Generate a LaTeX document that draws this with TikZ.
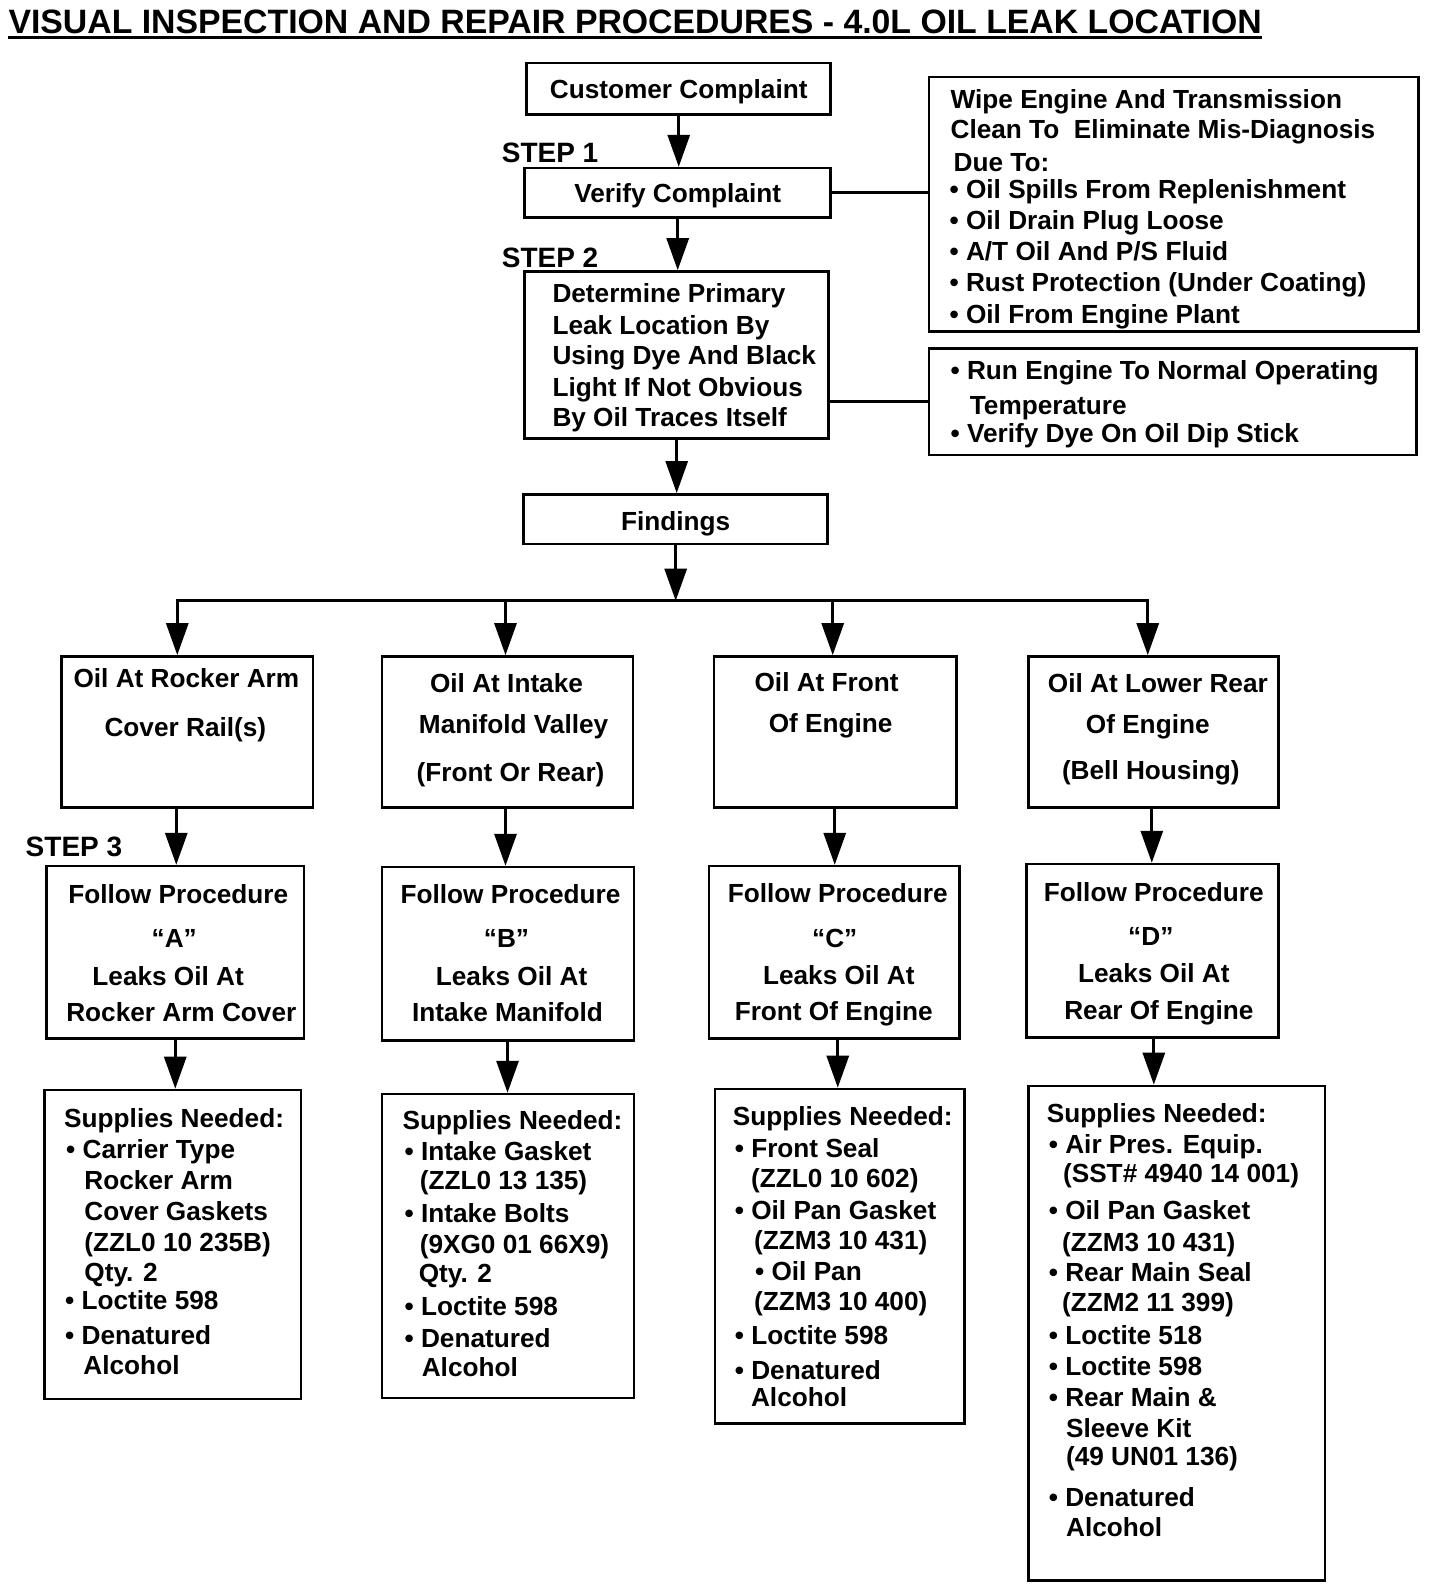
\documentclass[tikz,border=0pt]{standalone}
\usepackage{fontspec}
\setmainfont{Liberation Sans}
\usetikzlibrary{arrows.meta}
\newcommand\bx[5]{\node[box, minimum width={(#4-#2)*0.5065pt}, minimum height={(#5-#3)*0.5065pt}] (#1) at ({(#2+#4)/2},{(#3+#5)/2}) {};}
\begin{document}
\begin{tikzpicture}[x=0.5065pt,y=-0.5065pt,
 box/.style={draw, line width=1.3pt, inner sep=0pt},
 arr/.style={line width=1.5pt, -{Triangle[length=16pt,width=11pt]}},
 ln/.style={line width=1.5pt},
 tl/.style={inner sep=0pt, anchor=base west, font=\bfseries\fontsize{13.1}{15}\selectfont},
 tc/.style={tl, anchor=base},
 stp/.style={inner sep=0pt, anchor=base west, font=\bfseries\fontsize{14}{16}\selectfont}]
\path[fill=white, use as bounding box] (0,0) rectangle (1421.5,1567.6);

% title
\node[inner sep=0pt, anchor=base west, font=\bfseries\fontsize{16.9}{19}\selectfont] (title) at (8,33) {VISUAL INSPECTION AND REPAIR PROCEDURES - 4.0L OIL LEAK LOCATION};
\draw[line width=1.6pt] ([yshift=-2.2pt]title.base west) -- ([yshift=-2.2pt]title.base east);

% boxes
\bx{cc}{520}{62}{820}{113}
\bx{vc}{518}{166}{820}{215}
\bx{dp}{518}{268}{818}{433}
\bx{fd}{517}{488}{817}{537}
\bx{rb1}{917}{76}{1400}{327}
\bx{rb2}{917}{344}{1398}{449}
\bx{a1}{61}{648}{309}{797}
\bx{b1}{377}{648}{625}{797}
\bx{c1}{705}{648}{944}{797}
\bx{d1}{1015}{648}{1262}{797}
\bx{a2}{46}{855}{300}{1025}
\bx{b2}{377}{856}{626}{1027}
\bx{c2}{700}{855}{947}{1025}
\bx{d2}{1013}{853}{1262}{1024}
\bx{a3}{44}{1076}{297}{1381}
\bx{b3}{377}{1080}{626}{1380}
\bx{c3}{706}{1075}{952}{1405}
\bx{d3}{1015}{1072}{1308}{1560}

% step labels
\node[stp] (s1) at (495,160) {STEP 1};
\node[stp] (s2) at (495,264) {STEP 2};
\node[stp] (s3) at (25,845) {STEP 3};

% texts of top boxes
\node[tc] (tcc) at (670,97) {Customer Complaint};
\node[tc] (tvc) at (669,200) {Verify Complaint};
\node[tc] (tfd) at (667,524) {Findings};
\foreach[count=\i] \x/\y/\s in {938/107/{Wipe Engine And Transmission},938/137/{Clean To\ \ Eliminate Mis-Diagnosis},941/169/{Due To:},937/196/{• Oil Spills From Replenishment},937/227/{• Oil Drain Plug Loose},937/257/{• A/T Oil And P/S Fluid},937/288/{• Rust Protection (Under Coating)},937/319/{• Oil From Engine Plant}}
  {\node[tl] (trb1-\i) at (\x,\y) {\s};}
\foreach[count=\i] \x/\y/\s in {545/299/{Determine Primary},545/330/{Leak Location By},545/360/{Using Dye And Black},545/391/{Light If Not Obvious},545/421/{By Oil Traces Itself}}
  {\node[tl] (tdp-\i) at (\x,\y) {\s};}
\foreach[count=\i] \x/\y/\s in {938/375/{• Run Engine To Normal Operating},957/409/{Temperature},938/437/{• Verify Dye On Oil Dip Stick}}
  {\node[tl] (trb2-\i) at (\x,\y) {\s};}

% row 1 texts
\foreach[count=\i] \x/\y/\s in {184/679/{Oil At Rocker Arm},183/727/{Cover Rail(s)},500/684/{Oil At Intake},507/724/{Manifold Valley},504/771/{(Front Or Rear)},816/683/{Oil At Front},820/723/{Of Engine},1143/684/{Oil At Lower Rear},1133/724/{Of Engine},1136/769/{(Bell Housing)}}
  {\node[tc] (tr1-\i) at (\x,\y) {\s};}
% row 2 texts
\foreach[count=\i] \x/\y/\s in {176/892/{Follow Procedure},172/935/{“A”},166/973/{Leaks Oil At},179/1008/{Rocker Arm Cover},504/892/{Follow Procedure},500/935/{“B”},505/973/{Leaks Oil At},501/1008/{Intake Manifold},827/891/{Follow Procedure},824/935/{“C”},828/972/{Leaks Oil At},823/1007/{Front Of Engine},1139/890/{Follow Procedure},1136/933/{“D”},1139/970/{Leaks Oil At},1144/1006/{Rear Of Engine}}
  {\node[tc] (tr2-\i) at (\x,\y) {\s};}
% row 3 texts
\foreach[count=\i] \x/\y/\s in {63/1113/{Supplies Needed:},65/1144/{• Carrier Type},83/1174/{Rocker Arm},83/1205/{Cover Gaskets},83/1235/{(ZZL0 10 235B)},83/1265/{Qty. 2},64/1293/{• Loctite 598},64/1327/{• Denatured},82/1357/{Alcohol}}
  {\node[tl] (ta3-\i) at (\x,\y) {\s};}
\foreach[count=\i] \x/\y/\s in {397/1115/{Supplies Needed:},399/1146/{• Intake Gasket},414/1174/{(ZZL0 13 135)},399/1207/{• Intake Bolts},414/1237/{(9XG0 01 66X9)},413/1266/{Qty. 2},399/1299/{• Loctite 598},399/1330/{• Denatured},416/1359/{Alcohol}}
  {\node[tl] (tb3-\i) at (\x,\y) {\s};}
\foreach[count=\i] \x/\y/\s in {723/1111/{Supplies Needed:},725/1143/{• Front Seal},741/1172/{(ZZL0 10 602)},725/1204/{• Oil Pan Gasket},744/1233/{(ZZM3 10 431)},745/1264/{• Oil Pan},744/1294/{(ZZM3 10 400)},725/1327/{• Loctite 598},725/1362/{• Denatured},741/1388/{Alcohol}}
  {\node[tl] (tc3-\i) at (\x,\y) {\s};}
\foreach[count=\i] \x/\y/\s in {1033/1108/{Supplies Needed:},1035/1139/{• Air Pres. Equip.},1049/1167/{(SST\# 4940 14 001)},1035/1204/{• Oil Pan Gasket},1048/1235/{(ZZM3 10 431)},1035/1265/{• Rear Main Seal},1048/1295/{(ZZM2 11 399)},1035/1327/{• Loctite 518},1035/1358/{• Loctite 598},1035/1388/{• Rear Main \&},1052/1419/{Sleeve Kit},1052/1447/{(49 UN01 136)},1035/1487/{• Denatured},1052/1517/{Alcohol}}
  {\node[tl] (td3-\i) at (\x,\y) {\s};}

% connectors
\draw[arr] (cc.south) -- (cc.south |- vc.north);
\draw[arr] (vc.south) -- (vc.south |- dp.north);
\draw[arr] (dp.south) -- (dp.south |- fd.north);
\draw[ln] (vc.east) -- (vc.east -| rb1.west);
\draw[ln] (rb2.west -| dp.east) -- (rb2.west);
\coordinate (bus) at (667,593);
\coordinate (busA) at (175,593);
\coordinate (busB) at (499,593);
\coordinate (busC) at (822,593);
\coordinate (busD) at (1133,593);
\draw[arr] (fd.south) -- (bus);
\draw[ln, line cap=rect] (busA) -- (busD);
\draw[arr] (busA) -- (busA |- a1.north);
\draw[arr] (busB) -- (busB |- b1.north);
\draw[arr] (busC) -- (busC |- c1.north);
\draw[arr] (busD) -- (busD |- d1.north);
\draw[arr] (174,0 |- a1.south) -- (174,0 |- a2.north);
\draw[arr] (499,0 |- b1.south) -- (499,0 |- b2.north);
\draw[arr] (824,0 |- c1.south) -- (824,0 |- c2.north);
\draw[arr] (1137,0 |- d1.south) -- (1137,0 |- d2.north);
\draw[arr] (173,0 |- a2.south) -- (173,0 |- a3.north);
\draw[arr] (501,0 |- b2.south) -- (501,0 |- b3.north);
\draw[arr] (827,0 |- c2.south) -- (827,0 |- c3.north);
\draw[arr] (1139,0 |- d2.south) -- (1139,0 |- d3.north);
\end{tikzpicture}
\end{document}
